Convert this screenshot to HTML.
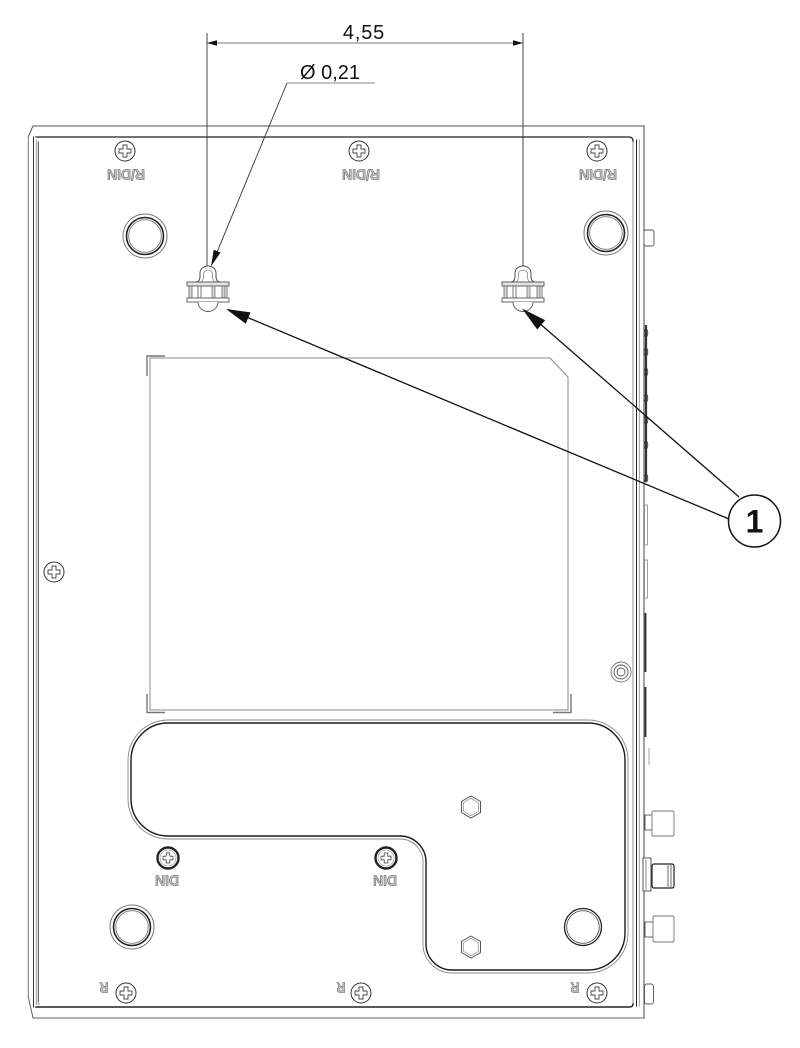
<!DOCTYPE html>
<html>
<head>
<meta charset="utf-8">
<style>
  html, body { margin: 0; padding: 0; background: #fff; }
  body { width: 800px; height: 1048px; overflow: hidden; }
  svg { display: block; }
  .lbl { font-family: "Liberation Sans", "DejaVu Sans", sans-serif; font-weight: bold; fill: #c8c8c8; stroke: #555; stroke-width: 0.55; }
  .dim { font-family: "Liberation Sans", "DejaVu Sans", sans-serif; fill: #111; }
</style>
</head>
<body>
<svg width="800" height="1048" viewBox="0 0 800 1048" xmlns="http://www.w3.org/2000/svg">
  <rect x="0" y="0" width="800" height="1048" fill="#fff"/>

  <defs>
    <g id="screw">
      <circle cx="0" cy="0" r="10" fill="#fff" stroke="#333" stroke-width="1"/>
      <path d="M -2,-6 H 2 V -2 H 6 V 2 H 2 V 6 H -2 V 2 H -6 V -2 H -2 Z" fill="none" stroke="#444" stroke-width="0.9"/>
    </g>
    <g id="dinscrew">
      <circle cx="0" cy="0" r="10.5" fill="#fff" stroke="#222" stroke-width="2.4"/>
      <circle cx="0" cy="0" r="8" fill="none" stroke="#888" stroke-width="0.6"/>
      <path d="M -1.8,-5 H 1.8 V -1.8 H 5 V 1.8 H 1.8 V 5 H -1.8 V 1.8 H -5 V -1.8 H -1.8 Z" fill="none" stroke="#444" stroke-width="0.8"/>
    </g>
    <g id="foot">
      <circle cx="0" cy="0" r="22" fill="#fff" stroke="#777" stroke-width="1"/>
      <circle cx="0" cy="0" r="18.5" fill="none" stroke="#222" stroke-width="1.6"/>
      <circle cx="0" cy="0" r="16.3" fill="none" stroke="#777" stroke-width="0.9"/>
    </g>
    <g id="hex">
      <polygon points="0,-11 9.5,-5.5 9.5,5.5 0,11 -9.5,5.5 -9.5,-5.5" fill="#fff" stroke="#555" stroke-width="1"/>
      <polygon points="0,-8.6 7.4,-4.3 7.4,4.3 0,8.6 -7.4,4.3 -7.4,-4.3" fill="none" stroke="#999" stroke-width="0.8"/>
    </g>
    <g id="keyhole">
      <path d="M -12,282 Q -8,282 -8,276 L -8,273 A 8 7 0 0 1 8,273 L 8,276 Q 8,282 12,282" fill="#fff" stroke="#555" stroke-width="1"/>
      <path d="M -7,282 Q -4.5,281 -4.5,276 L -4.5,274 A 4.5 4 0 0 1 4.5,274 L 4.5,276 Q 4.5,281 7,282" fill="none" stroke="#888" stroke-width="0.8"/>
      <rect x="-21" y="282" width="42" height="4" fill="#e2e2e2" stroke="#555" stroke-width="0.9"/>
      <rect x="-19" y="286" width="3" height="12" fill="#d8d8d8" stroke="#555" stroke-width="0.7"/>
      <line x1="-10" y1="286" x2="-10" y2="298" stroke="#555" stroke-width="0.8"/>
      <line x1="-7" y1="286" x2="-7" y2="298" stroke="#555" stroke-width="0.8"/>
      <rect x="4" y="286" width="3" height="12" fill="#d8d8d8" stroke="#666" stroke-width="0.7"/>
      <rect x="14" y="286" width="3" height="12" fill="#d8d8d8" stroke="#555" stroke-width="0.7"/>
      <line x1="19" y1="286" x2="19" y2="298" stroke="#555" stroke-width="0.8"/>
      <rect x="-21" y="298" width="42" height="4" fill="#fff" stroke="#555" stroke-width="0.9"/>
      <path d="M -10,302 A 10 9.5 0 0 0 10,302" fill="#fff" stroke="#555" stroke-width="0.9"/>
    </g>
  </defs>

  <!-- ===== Outer frame ===== -->
  <g fill="none" stroke-linecap="square">
    <!-- top outer -->
    <line x1="33" y1="126" x2="644" y2="126" stroke="#555" stroke-width="1"/>
    <!-- bottom outer -->
    <line x1="33" y1="1018" x2="644" y2="1018" stroke="#666" stroke-width="1"/>
    <!-- left perspective edges -->
    <line x1="28.3" y1="137" x2="33" y2="126" stroke="#555" stroke-width="1"/>
    <line x1="28.3" y1="997" x2="33" y2="1018" stroke="#666" stroke-width="1"/>
    <line x1="28.3" y1="137" x2="28.3" y2="997" stroke="#777" stroke-width="1"/>
    <line x1="33.5" y1="137" x2="33.5" y2="1007" stroke="#333" stroke-width="1"/>
    <line x1="36.3" y1="140" x2="36.3" y2="1004" stroke="#888" stroke-width="0.8"/>
    <line x1="38.3" y1="142" x2="38.3" y2="1002" stroke="#333" stroke-width="0.9"/>
    <!-- right side -->
    <line x1="644" y1="126" x2="644" y2="1018" stroke="#444" stroke-width="1"/>
    <line x1="633" y1="141" x2="633" y2="1005" stroke="#888" stroke-width="0.9"/>
    <line x1="636.5" y1="140" x2="636.5" y2="1006" stroke="#222" stroke-width="1"/>
    <line x1="639.3" y1="140" x2="639.3" y2="1006" stroke="#888" stroke-width="0.8"/>
    <!-- top inner panel edge -->
    <path d="M 36,137 H 629 Q 633,137 633,141" stroke="#222" stroke-width="1.3"/>
    <!-- bottom inner panel edge -->
    <path d="M 36,1007 H 629 Q 633,1007 633,1004" stroke="#222" stroke-width="1.5"/>
    <line x1="36" y1="1004" x2="40" y2="1004" stroke="#888" stroke-width="0.8"/>
  </g>

  <!-- right side bits -->
  <g fill="#fff" stroke="#555" stroke-width="0.9">
    <rect x="644" y="230" width="10" height="16" rx="2"/>
    <rect x="644.5" y="984" width="9" height="20" rx="2.5"/>
    <!-- connector 1 -->
    <rect x="645" y="815" width="7" height="15"/>
    <rect x="652" y="811" width="22" height="25" rx="1.5" stroke="#777"/>
    <!-- connector 2 -->
    <rect x="643" y="858" width="8" height="33" stroke="#444"/>
    <line x1="646" y1="860" x2="646" y2="890" stroke="#666" stroke-width="0.8"/>
    <rect x="652" y="864" width="22" height="24" rx="2" stroke="#222" stroke-width="1.2"/>
    <line x1="668" y1="865" x2="668" y2="887" stroke="#444" stroke-width="0.8"/>
    <line x1="671" y1="865" x2="671" y2="887" stroke="#444" stroke-width="0.8"/>
    <!-- connector 3 -->
    <rect x="645" y="922" width="8" height="15"/>
    <rect x="653" y="916" width="21" height="26" rx="1.5" stroke="#777"/>
  </g>
  <g stroke="#333" fill="none">
    <line x1="646" y1="325" x2="646" y2="482" stroke-width="2.2"/>
    <ellipse cx="646" cy="333" rx="1.8" ry="4" stroke-width="0.8"/>
    <ellipse cx="646" cy="352" rx="1.8" ry="4" stroke-width="0.8"/>
    <ellipse cx="646" cy="372" rx="1.8" ry="4" stroke-width="0.8"/>
    <ellipse cx="646" cy="398" rx="1.8" ry="4" stroke-width="0.8"/>
    <ellipse cx="646" cy="420" rx="1.8" ry="4" stroke-width="0.8"/>
    <ellipse cx="646" cy="445" rx="1.8" ry="4" stroke-width="0.8"/>
    <ellipse cx="646" cy="478" rx="1.8" ry="4" stroke-width="0.8"/>
    <rect x="644.5" y="505" width="3" height="40" stroke="#888" stroke-width="0.8"/>
    <rect x="644.5" y="560" width="3" height="38" stroke="#888" stroke-width="0.8"/>
    <line x1="645.5" y1="613" x2="645.5" y2="672" stroke-width="1.8"/>
    <line x1="645.5" y1="687" x2="645.5" y2="737" stroke-width="1.8"/>
    <line x1="649" y1="748" x2="649" y2="765" stroke="#888" stroke-width="0.8"/>
  </g>

  <!-- ===== Square label area ===== -->
  <path d="M 150,358 H 550 L 568,377 V 710 H 150 Z" fill="none" stroke="#888" stroke-width="1"/>
  <g fill="none" stroke="#777" stroke-width="1.4">
    <path d="M 147,376 V 356 H 165"/>
    <path d="M 147,694 V 712.5 H 165"/>
    <path d="M 571,694 V 712.5 H 553"/>
  </g>

  <!-- ===== L-shaped pocket ===== -->
  <path d="M 168,720 L 588,720 A 40 40 0 0 1 628,760 L 628,933 A 40 40 0 0 1 588,973 L 452,973 A 29 29 0 0 1 423,944 L 423,862 A 23 23 0 0 0 400,839 L 168,839 A 40 40 0 0 1 128,799 L 128,760 A 40 40 0 0 1 168,720 Z" fill="none" stroke="#888" stroke-width="0.9"/>
  <path d="M 168,723 L 588,723 A 37 37 0 0 1 625,760 L 625,933 A 37 37 0 0 1 588,970 L 452,970 A 26 26 0 0 1 426,944 L 426,862 A 26 26 0 0 0 400,836 L 168,836 A 37 37 0 0 1 131,799 L 131,760 A 37 37 0 0 1 168,723 Z" fill="none" stroke="#1a1a1a" stroke-width="1.4"/>

  <!-- hex nuts -->
  <use href="#hex" x="471" y="807"/>
  <use href="#hex" x="471" y="947"/>

  <!-- feet / holes -->
  <use href="#foot" x="145" y="236"/>
  <use href="#foot" x="606" y="233"/>
  <use href="#foot" x="132" y="927"/>
  <circle cx="583" cy="927" r="18.5" fill="#fff" stroke="#222" stroke-width="1.3"/>
  <circle cx="583" cy="927" r="16.3" fill="none" stroke="#555" stroke-width="0.9"/>

  <!-- small right screw -->
  <circle cx="621" cy="672" r="10" fill="#fff" stroke="#777" stroke-width="0.9"/>
  <circle cx="621" cy="672" r="7" fill="none" stroke="#555" stroke-width="0.9"/>
  <circle cx="621" cy="672" r="4" fill="none" stroke="#555" stroke-width="0.9"/>

  <!-- screws -->
  <use href="#screw" x="125" y="151"/>
  <use href="#screw" x="359" y="151"/>
  <use href="#screw" x="597" y="151"/>
  <use href="#screw" x="54" y="572"/>
  <use href="#screw" x="126" y="993"/>
  <use href="#screw" x="361" y="993"/>
  <use href="#screw" x="597" y="993"/>
  <use href="#dinscrew" x="168" y="858"/>
  <use href="#dinscrew" x="386" y="858"/>

  <!-- upside-down labels -->
  <text class="lbl" x="126" y="180.5" font-size="15" text-anchor="middle" textLength="38" lengthAdjust="spacingAndGlyphs" transform="rotate(180 126 175)">R/DIN</text>
  <text class="lbl" x="361" y="180.5" font-size="15" text-anchor="middle" textLength="38" lengthAdjust="spacingAndGlyphs" transform="rotate(180 361 175)">R/DIN</text>
  <text class="lbl" x="598" y="180.5" font-size="15" text-anchor="middle" textLength="38" lengthAdjust="spacingAndGlyphs" transform="rotate(180 598 175)">R/DIN</text>
  <text class="lbl" x="167" y="886.5" font-size="15" text-anchor="middle" textLength="24" lengthAdjust="spacingAndGlyphs" transform="rotate(180 167 881)">DIN</text>
  <text class="lbl" x="385" y="886.5" font-size="15" text-anchor="middle" textLength="24" lengthAdjust="spacingAndGlyphs" transform="rotate(180 385 881)">DIN</text>
  <text class="lbl" x="104" y="993.5" font-size="15" text-anchor="middle" textLength="9" lengthAdjust="spacingAndGlyphs" transform="rotate(180 104 988)">R</text>
  <text class="lbl" x="341" y="993.5" font-size="15" text-anchor="middle" textLength="9" lengthAdjust="spacingAndGlyphs" transform="rotate(180 341 988)">R</text>
  <text class="lbl" x="575" y="993.5" font-size="15" text-anchor="middle" textLength="9" lengthAdjust="spacingAndGlyphs" transform="rotate(180 575 988)">R</text>

  <!-- keyholes -->
  <use href="#keyhole" x="208" y="0"/>
  <use href="#keyhole" x="523" y="0"/>

  <!-- ===== Dimension 4,55 ===== -->
  <line x1="207" y1="33" x2="207" y2="266" stroke="#333" stroke-width="0.9"/>
  <line x1="523" y1="33" x2="523" y2="266" stroke="#333" stroke-width="0.9"/>
  <line x1="207" y1="43" x2="523" y2="43" stroke="#777" stroke-width="1"/>
  <polygon points="207,43 217,40.3 217,45.7" fill="#111"/>
  <polygon points="523,43 513,40.3 513,45.7" fill="#111"/>
  <text class="dim" x="364" y="39" font-size="20" text-anchor="middle" letter-spacing="0.8">4,55</text>

  <!-- ===== Diameter Ø 0,21 ===== -->
  <line x1="287" y1="83" x2="375" y2="83" stroke="#888" stroke-width="1"/>
  <line x1="287" y1="83" x2="215" y2="257" stroke="#333" stroke-width="0.9"/>
  <polygon points="211,266.5 220.5,252.5 213.7,249.7" fill="#111"/>
  <text class="dim" x="330" y="79" font-size="20" text-anchor="middle">Ø 0,21</text>

  <!-- ===== Callout 1 ===== -->
  <line x1="729" y1="519" x2="244" y2="316" stroke="#111" stroke-width="1.3"/>
  <polygon points="226,309 250.5,312.4 245.8,323.8" fill="#111"/>
  <line x1="739" y1="497" x2="538" y2="322" stroke="#111" stroke-width="1.3"/>
  <polygon points="522,308.5 537.2,329.5 545.2,320.3" fill="#111"/>
  <circle cx="754.5" cy="521" r="26" fill="#fff" stroke="#111" stroke-width="1.5"/>
  <text x="754.5" y="532.5" font-family="'Liberation Sans', 'DejaVu Sans', sans-serif" font-weight="bold" font-size="32" text-anchor="middle" fill="#111">1</text>
</svg>
</body>
</html>
